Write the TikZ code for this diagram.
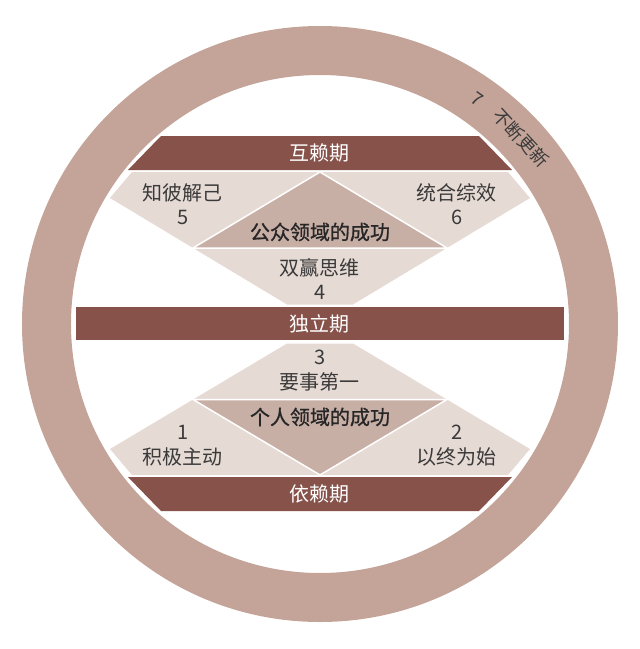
\documentclass[tikz,border=0pt]{standalone}
\usepackage{fontspec}
\setmainfont{Noto Sans CJK SC}
\newfontfamily\cjkheavy{Noto Sans CJK SC}[FakeBold=1]
\definecolor{ringclr}{HTML}{C4A499}
\definecolor{barclr}{HTML}{86524A}
\definecolor{paneclr}{HTML}{E6DAD4}
\definecolor{coreclr}{HTML}{C8AFA5}
\definecolor{inkclr}{HTML}{3A3A3A}
\begin{document}
\begin{tikzpicture}[x=1pt, y=1pt,
  bar/.style={fill=barclr},
  pane/.style={fill=paneclr},
  core/.style={fill=coreclr, draw=white, line width=1.5pt},
  stage/.style={text=white, font=\fontsize{20}{24}\selectfont},
  habit/.style={text=inkclr, font=\fontsize{20}{24}\selectfont},
  win/.style={text=black!85, font=\cjkheavy\fontsize{20}{24}\selectfont},
  renew/.style={text=inkclr, inner sep=0pt, font=\fontsize{18}{22}\selectfont}]
\useasboundingbox (-320,-325) rectangle (320,324);
\fill[ringclr, even odd rule] (0,0) circle (298) (0,0) circle (249);
\fill[bar] (-159,188) -- (159,188) -- (192,154) -- (-192,154) -- cycle;
\fill[bar] (-244,-16) rectangle (244,17);
\fill[bar] (-192,-153) -- (192,-153) -- (159,-187) -- (-159,-187) -- cycle;
\fill[pane] (-188,152) -- (188,152) -- (210,126) -- (33,19.5) -- (-33,19.5) -- (-210,126) -- cycle;
\fill[pane] (-188,-151) -- (188,-151) -- (210,-125) -- (33,-19.5) -- (-33,-19.5) -- (-210,-125) -- cycle;
\filldraw[core] (0,152) -- (127,76) -- (-127,76) -- cycle;
\filldraw[core] (0,-151) -- (127,-75.5) -- (-127,-75.5) -- cycle;
\node[stage] (hulai) at (0,171) {互赖期};
\node[stage] (duli) at (0,0.5) {独立期};
\node[stage] (yilai) at (0,-170) {依赖期};
\node[win] (public) at (0,92) {公众领域的成功};
\node[win] (private) at (0,-93) {个人领域的成功};
\node[habit] (h5) at (-137,131) {知彼解己};
\node[habit] (n5) at (-137,107) {5};
\node[habit] (h6) at (137,131) {统合综效};
\node[habit] (n6) at (137,107) {6};
\node[habit] (h4) at (0,56) {双赢思维};
\node[habit] (n4) at (0,32) {4};
\node[habit] (n3) at (0,-33) {3};
\node[habit] (h3) at (0,-58) {要事第一};
\node[habit] (n1) at (-137,-108) {1};
\node[habit] (h1) at (-137,-133) {积极主动};
\node[habit] (n2) at (137,-108) {2};
\node[habit] (h2) at (137,-133) {以终为始};
\node[renew, rotate=-35] (n7) at (55:274) {7};
\node[renew, rotate=-47.2] (h7) at (42.8:274) {不断更新};
\end{tikzpicture}
\end{document}
